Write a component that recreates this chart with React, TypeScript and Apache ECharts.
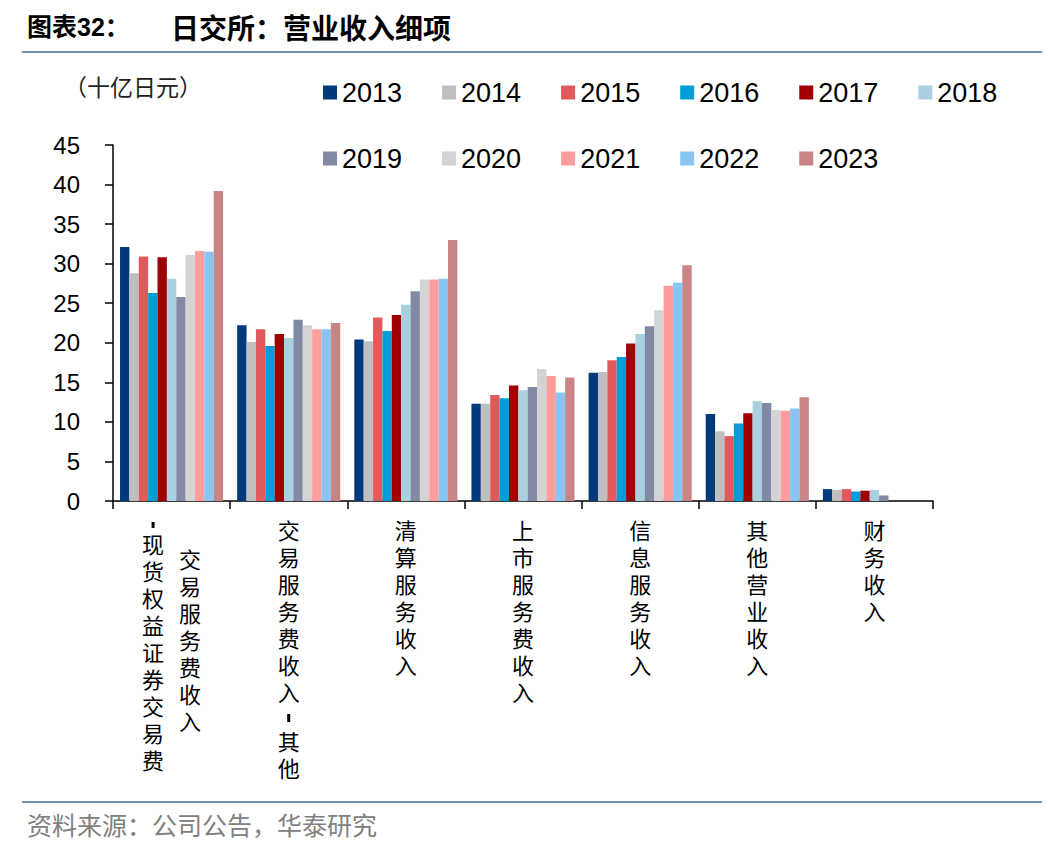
import React, { useEffect, useRef } from "react";
import * as echarts from "echarts";

const categories = [
  "交易服务费收入-现货权益证券交易费",
  "交易服务费收入-其他",
  "清算服务收入",
  "上市服务费收入",
  "信息服务收入",
  "其他营业收入",
  "财务收入",
];

const years = ["2013", "2014", "2015", "2016", "2017", "2018", "2019", "2020", "2021", "2022", "2023"];

const colors = [
  "#003A7A",
  "#BFBFBF",
  "#E05A5C",
  "#009DD9",
  "#A00000",
  "#A8D0DE",
  "#8289A4",
  "#D3D3D3",
  "#FF9C9C",
  "#88C5F2",
  "#C98585",
];

const v2013 = [32.1, 22.2, 20.4, 12.3, 16.2, 11.0, 1.5];
const v2014 = [28.8, 20.1, 20.2, 12.3, 16.3, 8.8, 1.4];
const v2015 = [30.9, 21.7, 23.2, 13.4, 17.8, 8.2, 1.5];
const v2016 = [26.3, 19.6, 21.5, 13.0, 18.2, 9.8, 1.2];
const v2017 = [30.8, 21.1, 23.5, 14.6, 19.9, 11.1, 1.3];
const v2018 = [28.1, 20.6, 24.8, 14.0, 21.1, 12.6, 1.4];
const v2019 = [25.8, 22.9, 26.5, 14.4, 22.1, 12.4, 0.7];
const v2020 = [31.1, 22.2, 28.0, 16.7, 24.1, 11.5, null];
const v2021 = [31.6, 21.7, 28.0, 15.8, 27.2, 11.4, null];
const v2022 = [31.5, 21.7, 28.1, 13.7, 27.6, 11.7, null];
const v2023 = [39.2, 22.5, 33.0, 15.6, 29.8, 13.1, null];

const seriesValues = [v2013, v2014, v2015, v2016, v2017, v2018, v2019, v2020, v2021, v2022, v2023];

const yTicks = { min: 0, max: 45, interval: 5 };

const titleLeft = "图表32：";
const titleRight = "日交所：营业收入细项";
const unitText = "（十亿日元）";
const sourceText = "资料来源：公司公告，华泰研究";

const CJK = "'Noto Sans CJK SC', sans-serif";
const LAT = "'Liberation Sans', Arial, 'Noto Sans CJK SC', sans-serif";
const LABEL_FONT = "'Liberation Sans', 'Noto Sans CJK SC', sans-serif";

function singleColumn(s: string): string {
  return s
    .split("")
    .map((ch) => (ch === "-" ? "{h| }" : "{c|" + ch + "}"))
    .join("\n");
}

function leftColumnLabel(value: string, idx: number): string {
  if (idx === 0) {
    const pos = value.indexOf("-");
    const after = value.slice(pos + 1);
    const lines = ["{hl| }{sh| }"].concat(after.split("").map((ch) => "{cl|" + ch + "}"));
    return lines.join("\n");
  }
  return singleColumn(value);
}

function rightColumnLabel(value: string, idx: number): string {
  if (idx === 0) {
    const pos = value.indexOf("-");
    const before = value.slice(0, pos);
    return before
      .split("")
      .map((ch) => "{cr|" + ch + "}")
      .join("\n");
  }
  return "";
}

const rich = {
  c: { fontSize: 22, lineHeight: 27, fontFamily: LABEL_FONT, color: "#000" },
  cl: { fontSize: 22, lineHeight: 27, fontFamily: LABEL_FONT, color: "#000", padding: [0, 37, 0, 0] },
  cr: { fontSize: 22, lineHeight: 27, fontFamily: LABEL_FONT, color: "#000", padding: [0, 0, 0, 37] },
  sh: { width: 37, fontSize: 6, lineHeight: 14, color: "rgba(0,0,0,0)" },
  hl: { width: 3, height: 6, fontSize: 6, lineHeight: 14, backgroundColor: "#000", color: "rgba(0,0,0,0)" },
  h: { width: 3, height: 8, fontSize: 6, lineHeight: 22, backgroundColor: "#000", color: "rgba(0,0,0,0)" },
};

export default function App() {
  const ref = useRef<HTMLDivElement>(null);

  useEffect(() => {
    if (!ref.current) return;
    const chart = echarts.init(ref.current, null, { renderer: "svg" });
    const gridBox = { left: 113, right: 115, top: 145, bottom: 351, containLabel: false };

    const legendCommon = {
      left: 318,
      itemWidth: 14,
      itemHeight: 14,
      itemGap: 40,
      icon: "rect",
      selectedMode: false,
      textStyle: { fontSize: 27, color: "#000", fontFamily: LAT },
    };

    chart.setOption({
      animation: false,
      backgroundColor: "#fff",
      color: colors,
      legend: [
        { ...legendCommon, top: 74, data: years.slice(0, 6) },
        { ...legendCommon, top: 140, data: years.slice(6) },
      ],
      grid: [gridBox, gridBox],
      xAxis: [
        {
          type: "category",
          gridIndex: 0,
          data: categories,
          axisLine: { show: true, lineStyle: { color: "#000", width: 1.5 } },
          axisTick: { show: true, length: 8, lineStyle: { color: "#000", width: 1.5 } },
          axisLabel: {
            interval: 0,
            margin: 17,
            formatter: leftColumnLabel,
            rich,
          },
        },
        {
          type: "category",
          gridIndex: 1,
          data: categories,
          axisLine: { show: false },
          axisTick: { show: false },
          axisLabel: {
            interval: 0,
            margin: 46,
            formatter: rightColumnLabel,
            rich,
          },
        },
      ],
      yAxis: [
        {
          type: "value",
          gridIndex: 0,
          min: yTicks.min,
          max: yTicks.max,
          interval: yTicks.interval,
          axisLine: { show: true, lineStyle: { color: "#000", width: 1.5 } },
          axisTick: { show: true, length: 8, lineStyle: { color: "#000", width: 1.5 } },
          splitLine: { show: false },
          axisLabel: { fontSize: 24, color: "#000", fontFamily: LAT, margin: 33 },
        },
        { type: "value", gridIndex: 1, show: false, min: 0, max: 45 },
      ],
      series: years.map((y, i) => ({
        name: y,
        type: "bar",
        xAxisIndex: 0,
        yAxisIndex: 0,
        data: seriesValues[i],
        barGap: "0%",
        barCategoryGap: "12%",
        itemStyle: { color: colors[i] },
      })),
      graphic: [
        {
          type: "text",
          left: 27,
          top: 14,
          style: { text: titleLeft, fontSize: 25, fontWeight: "bold", fontFamily: LAT, fill: "#000" },
        },
        {
          type: "text",
          left: 171,
          top: 13,
          style: { text: titleRight, fontSize: 28, fontWeight: "bold", fontFamily: CJK, fill: "#000" },
        },
        {
          type: "line",
          shape: { x1: 22, y1: 52, x2: 1042, y2: 52 },
          style: { stroke: "#6E8DB4", lineWidth: 2 },
        },
        {
          type: "text",
          left: 64,
          top: 74,
          style: { text: unitText, fontSize: 23, fontFamily: CJK, fill: "#222" },
        },
        {
          type: "line",
          shape: { x1: 22, y1: 802, x2: 1042, y2: 802 },
          style: { stroke: "#6E8DB4", lineWidth: 2 },
        },
        {
          type: "text",
          left: 27,
          top: 811,
          style: { text: sourceText, fontSize: 25, fontFamily: CJK, fill: "#808080" },
        },
      ],
    });

    return () => chart.dispose();
  }, []);

  return (
    <div
      ref={ref}
      style={{ position: "fixed", left: 0, top: 0, width: 1048, height: 852, background: "#fff" }}
    />
  );
}
